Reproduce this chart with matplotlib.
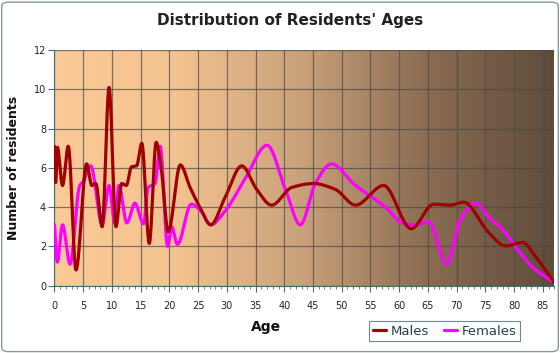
import matplotlib
matplotlib.use("Agg")
import matplotlib.pyplot as plt
from matplotlib.colors import LinearSegmentedColormap
from matplotlib.patches import FancyBboxPatch
from matplotlib.ticker import MultipleLocator
import numpy as np

# values (age, number of residents)
male_ages = [0, 0.2, 0.5, 1.4, 2.4, 3.75, 5.6, 6.5, 7.2, 8.3, 9.5, 10.7, 11.7, 12.5,
             13.4, 14.3, 15.2, 16.5, 17.7, 18.6, 19.8, 21.9, 23.6, 25.3, 27.2, 29.7,
             32.6, 35.2, 37.8, 41.3, 45.1, 48.9, 52.4, 57.3, 62.1, 66.0, 68.9, 71.2,
             75.6, 78.5, 81.5, 83.7, 87.0]
male_counts = [7.1, 5.2, 7.05, 5.1, 7.1, 0.8, 6.2, 5.1, 5.2, 3.0, 10.1, 3.0, 5.2, 5.1,
               6.05, 6.1, 7.25, 2.15, 7.3, 5.9, 2.75, 6.15, 5.0, 4.0, 3.1, 4.5,
               6.1, 4.9, 4.1, 5.0, 5.2, 4.9, 4.1, 5.1, 2.9, 4.15, 4.1, 4.25,
               2.7, 2.02, 2.2, 1.5, 0.15]

female_ages = [0, 0.5, 1.4, 2.7, 4.4, 5.0, 6.3, 8.3, 9.5, 10.5, 11.2, 12.6, 14.0, 15.5,
               16.3, 17.5, 18.4, 19.7, 20.4, 21.4, 23.8, 25.5, 27.2, 29.7, 33.2, 37.0,
               40.2, 42.8, 45.4, 48.2, 52.4, 55.3, 57.6, 60.5, 62.8, 65.1, 68.3, 70.6,
               73.3, 75.6, 77.9, 80.2, 83.1, 87.0]
female_counts = [3.1, 1.2, 3.1, 1.1, 5.1, 5.3, 6.1, 3.1, 5.1, 3.2, 5.1, 3.2, 4.2, 3.15,
                 5.0, 5.2, 7.1, 2.0, 3.0, 2.1, 4.15, 3.8, 3.1, 3.8, 5.45, 7.15,
                 4.9, 3.1, 5.2, 6.2, 5.1, 4.5, 4.0, 3.2, 3.1, 3.25, 1.1, 3.35,
                 4.2, 3.5, 2.9, 2.0, 0.97, 0.15]

x_ticks = list(range(0, 90, 5))
y_ticks = list(range(0, 14, 2))


# smooth monotone (pchip) curve through the points, like the original's spline
def pchip(x, y, xs):
    x = np.asarray(x, float)
    y = np.asarray(y, float)
    h = np.diff(x)
    d = np.diff(y) / h
    m = np.zeros_like(y)
    m[0], m[-1] = d[0], d[-1]
    for k in range(1, len(x) - 1):
        if d[k - 1] * d[k] > 0:
            w1 = 2 * h[k] + h[k - 1]
            w2 = h[k] + 2 * h[k - 1]
            m[k] = (w1 + w2) / (w1 / d[k - 1] + w2 / d[k])
    idx = np.clip(np.searchsorted(x, xs) - 1, 0, len(x) - 2)
    t = (xs - x[idx]) / h[idx]
    h00 = 2 * t**3 - 3 * t**2 + 1
    h10 = t**3 - 2 * t**2 + t
    h01 = -2 * t**3 + 3 * t**2
    h11 = t**3 - t**2
    return h00 * y[idx] + h10 * h[idx] * m[idx] + h01 * y[idx + 1] + h11 * h[idx] * m[idx + 1]


fig = plt.figure(figsize=(5.6, 3.53), dpi=100)
fig.patch.set_facecolor("white")
fig.patches.append(FancyBboxPatch((0.003, 0.004), 0.994, 0.99, boxstyle="round,pad=0,rounding_size=0.012",
                                  transform=fig.transFigure, facecolor="none", edgecolor="#8a9a9a", linewidth=1))

ax = fig.add_axes([0.0973, 0.1907, 0.8925, 0.6677])
ax.set_xlim(0, 87)
ax.set_ylim(0, 12)

# background gradient, light peach to dark brown
bg = LinearSegmentedColormap.from_list("bg", [(0, "#fbca96"), (0.25, "#f2c290"), (0.5, "#c8a07a"),
                                              (0.75, "#8a6c52"), (1, "#5e4c3a")])
ax.imshow(np.linspace(0, 1, 256).reshape(1, -1), cmap=bg, aspect="auto",
          extent=[0, 87, 0, 12], zorder=0)

ax.set_xticks(x_ticks)
ax.set_yticks(y_ticks)
ax.xaxis.set_minor_locator(MultipleLocator(1))
ax.grid(True, which="major", color="#4a4a4a", alpha=0.7, linewidth=0.9, zorder=1)

xs_m = np.linspace(male_ages[0], male_ages[-1], 1500)
xs_f = np.linspace(female_ages[0], female_ages[-1], 1500)
ax.plot(xs_f, pchip(female_ages, female_counts, xs_f), color="#ff00ff", linewidth=2.3,
        label="Females", zorder=3, solid_capstyle="round")
ax.plot(xs_m, pchip(male_ages, male_counts, xs_m), color="#a00000", linewidth=2.3,
        label="Males", zorder=4, solid_capstyle="round")

for s in ["top", "right"]:
    ax.spines[s].set_visible(False)
for s in ["left", "bottom"]:
    ax.spines[s].set_color("#407070")
ax.tick_params(axis="both", which="major", direction="out", length=4, color="#407070",
               labelsize=7, labelcolor="#222222", pad=2)
ax.tick_params(axis="x", which="minor", direction="out", length=2.5, color="#407070")
ax.tick_params(axis="x", pad=7)

fig.text(0.518, 0.943, "Distribution of Residents' Ages", ha="center", va="center",
         fontsize=11, fontweight="bold", color="#222222")
fig.text(0.475, 0.073, "Age", ha="center", va="center", fontsize=10, fontweight="bold", color="#111111")
fig.text(0.024, 0.525, "Number of residents", ha="center", va="center", rotation=90,
         fontsize=9, fontweight="bold", color="#111111")

handles, labels = ax.get_legend_handles_labels()
leg = fig.legend(handles[::-1], labels[::-1], loc="center", bbox_to_anchor=(0.794, 0.0623), ncol=2,
                 frameon=True, fancybox=False, fontsize=9.5, handlelength=1.0, handletextpad=0.35,
                 columnspacing=1.1, borderpad=0.3)
leg.get_frame().set_edgecolor("#407070")
leg.get_frame().set_facecolor("none")
leg.get_frame().set_linewidth(0.8)
for t in leg.get_texts():
    t.set_color("#224444")

fig.savefig("out.png", dpi=100)
